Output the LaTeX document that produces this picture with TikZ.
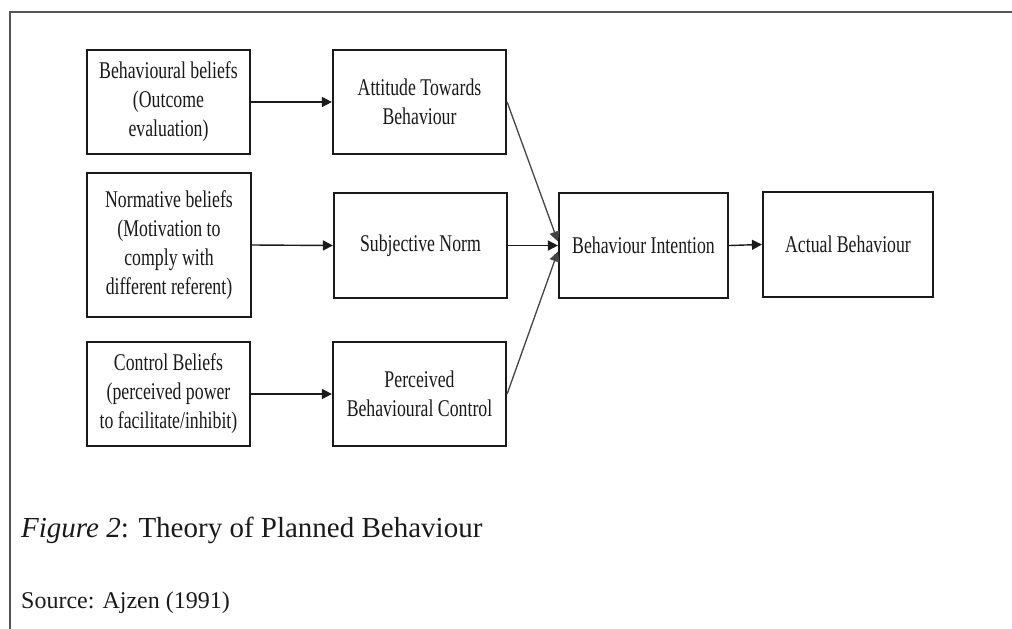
\documentclass[tikz,border=0pt]{standalone}
\usepackage{fontspec}
\setmainfont{Liberation Serif}
\newfontfamily\boxfont[FakeStretch=0.74]{Liberation Serif}
\usetikzlibrary{arrows.meta,positioning}

\definecolor{inkdark}{HTML}{1A1A1A}
\definecolor{framegray}{HTML}{555555}

\tikzset{
  modelbox/.style={draw=inkdark, line width=2.2pt, fill=white, align=center,
    inner sep=0pt, text=inkdark,
    font=\boxfont\fontsize{24}{29}\selectfont},
  flow/.style={draw=inkdark, line width=1.4pt,
    -{Triangle[length=10pt,width=10pt]}},
  slant/.style={draw=framegray!80!black, line width=1.3pt,
    -{Triangle[length=10pt,width=10pt]}},
}

\begin{document}
\begin{tikzpicture}[x=1pt,y=-1pt]
  \useasboundingbox (0,0) rectangle (1012,629);

  % page frame
  \draw[framegray, line width=1.5pt] (1012,12) -- (10,12) -- (10,629);

  % belief boxes
  \node[modelbox, minimum width=163pt, minimum height=104pt] (beh) at (168.5,102)
    {Behavioural beliefs\\(Outcome\\evaluation)};
  \node[modelbox, minimum width=164pt, minimum height=144pt] (norm) at (169,245)
    {Normative beliefs\\(Motivation to\\comply with\\different referent)};
  \node[modelbox, minimum width=163pt, minimum height=104pt] (ctrl) at (168.5,394)
    {Control Beliefs\\(perceived power\\to facilitate/inhibit)};

  % construct boxes
  \node[modelbox, minimum width=173pt, minimum height=104pt] (att) at (419.5,102)
    {Attitude Towards\\Behaviour};
  \node[modelbox, minimum width=173pt, minimum height=105pt] (subj) at (420.5,245.5)
    {Subjective Norm};
  \node[modelbox, minimum width=173pt, minimum height=104pt] (pbc) at (419.5,394)
    {Perceived\\Behavioural Control};

  % intention and behaviour
  \node[modelbox, minimum width=169pt, minimum height=105pt] (int) at (643.5,245.5)
    {Behaviour Intention};
  \node[modelbox, minimum width=170pt, minimum height=105pt] (act) at (848,244.5)
    {Actual Behaviour};

  % connectors
  \draw[flow] (beh.east) -- (att.west);
  \draw[flow] (norm.east) -- (subj.west);
  \draw[flow] (ctrl.east) -- (pbc.west);
  \draw[slant] (att.east) -- ([yshift=4pt]int.west);
  \draw[flow] (subj.east) -- (int.west);
  \draw[slant] (pbc.east) -- ([yshift=-6pt]int.west);
  \draw[flow] (int.east) -- (act.west);

  % caption and source
  \node[anchor=base west, inner sep=0pt, text=inkdark,
        font=\fontsize{29}{34}\selectfont] (cap) at (21,537)
    {\textit{Figure 2}: Theory of Planned Behaviour};
  \node[anchor=base west, inner sep=0pt, text=inkdark,
        font=\fontsize{24}{28}\selectfont] (src) at (21,608)
    {Source: Ajzen (1991)};
\end{tikzpicture}
\end{document}
